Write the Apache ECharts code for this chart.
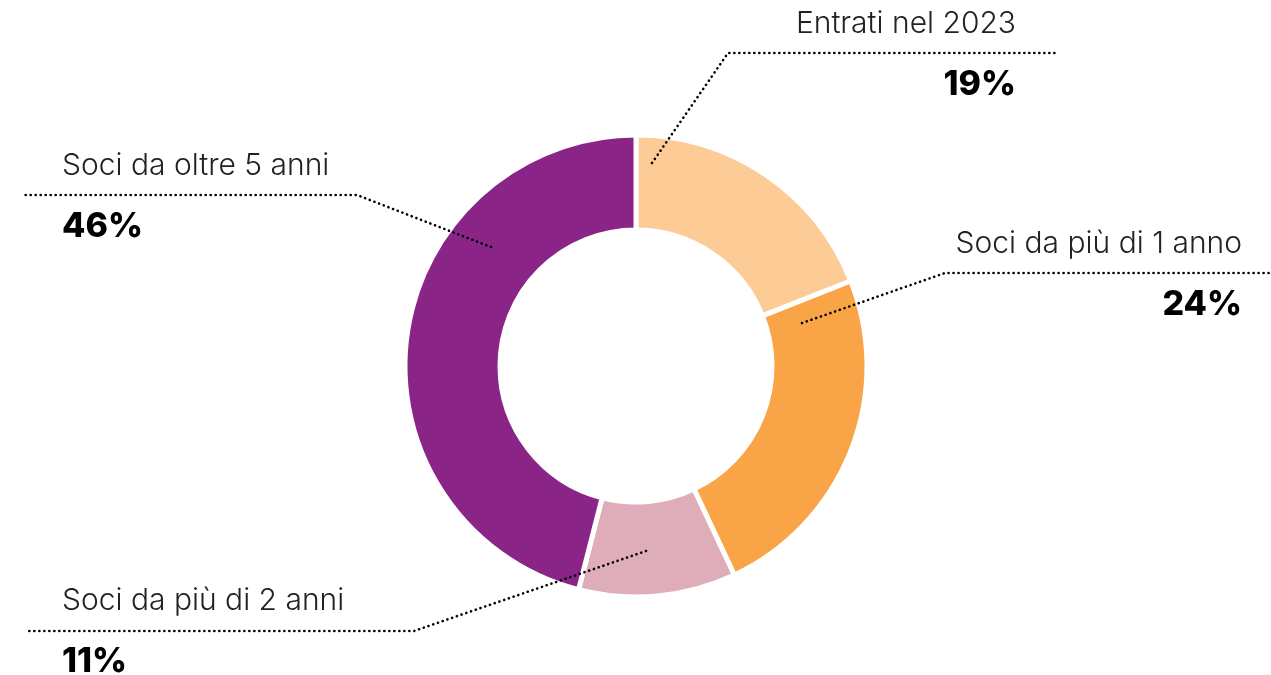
<!DOCTYPE html>
<html lang="it">
<head>
    <meta charset="UTF-8">
    <title>Soci per anzianità</title>
    <script src="https://cdn.jsdelivr.net/npm/echarts@6/dist/echarts.min.js"></script>
    <style>
        body {
            margin: 0;
            background: #ffffff;
        }
        #chart {
            width: 1271px;
            height: 675px;
        }
    </style>
</head>
<body>
    <div id="chart"></div>

    <script>
        // dati
        const categories = ['Entrati nel 2023', 'Soci da più di 1 anno', 'Soci da più di 2 anni', 'Soci da oltre 5 anni'];
        const values = [19, 24, 11, 46];
        const colors = ['#FDCB96', '#F9A547', '#DFADBA', '#8A2587'];

        // posizione delle etichette (annotazioni)
        const labelAlign = ['right', 'right', 'left', 'left'];
        const labelX = [1016, 1242, 62, 62];
        const labelY = [54, 274, 631, 196];
        const guidePoints = [
            [[652, 163], [728, 53], [1055, 53]],
            [[802, 323], [945, 273], [1271, 273]],
            [[646, 551], [414, 631], [25, 631]],
            [[491, 247], [357, 195], [25, 195]]
        ];

        const myChart = echarts.init(document.getElementById('chart'));

        const pieBase = {
            type: 'pie',
            center: [636, 366],
            radius: [136, 231],
            startAngle: 90,
            clockwise: true,
            silent: true
        };

        const option = {
            animation: false,
            series: [
                // anello
                Object.assign({}, pieBase, {
                    z: 2,
                    itemStyle: {
                        borderColor: '#ffffff',
                        borderWidth: 5
                    },
                    label: { show: false },
                    labelLine: { show: false },
                    data: categories.map((name, i) => ({
                        name: name,
                        value: values[i],
                        itemStyle: { color: colors[i] }
                    }))
                }),
                // etichette sopra l'anello
                Object.assign({}, pieBase, {
                    z: 5,
                    itemStyle: {
                        color: 'rgba(0,0,0,0)',
                        borderWidth: 0
                    },
                    label: {
                        show: true,
                        position: 'outside',
                        formatter: '{n|{b}}\n{p|{c}%}',
                        rich: {
                            n: {
                                fontFamily: 'Inter',
                                fontWeight: 300,
                                fontSize: 30,
                                color: '#222222',
                                lineHeight: 61
                            },
                            p: {
                                fontFamily: 'Inter',
                                fontWeight: 800,
                                fontSize: 34,
                                color: '#000000',
                                lineHeight: 61
                            }
                        }
                    },
                    labelLine: {
                        show: true,
                        lineStyle: {
                            color: '#000000',
                            width: 2.6,
                            cap: 'round',
                            type: [0.1, 4.9]
                        }
                    },
                    labelLayout: function (params) {
                        const i = params.dataIndex;
                        return {
                            x: labelX[i],
                            y: labelY[i],
                            align: labelAlign[i],
                            verticalAlign: 'middle',
                            labelLinePoints: guidePoints[i]
                        };
                    },
                    data: categories.map((name, i) => ({
                        name: name,
                        value: values[i],
                        label: { align: labelAlign[i] }
                    }))
                })
            ]
        };

        myChart.setOption(option);
    </script>
</body>
</html>
